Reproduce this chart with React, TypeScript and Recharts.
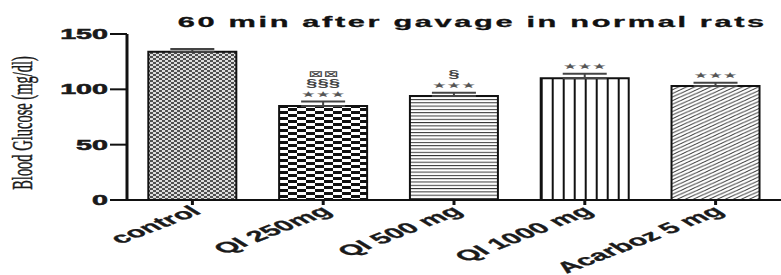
import React from 'react'
import { BarChart, Bar, XAxis, YAxis, ErrorBar, LabelList, Cell } from 'recharts'

const categories = ['control', 'QI 250mg', 'QI 500 mg', 'QI 1000 mg', 'Acarboz 5 mg']
const glucose = [134, 85, 94, 110, 103]
const sem = [2.5, 4, 3, 4, 3]
const starMarks = ['', '★★★', '★★★', '★★★', '★★★']
const sectMarks = ['', '§§§', '§', '', '']
const boxMarks = ['', '⊠⊠', '', '', '']
const yTicks = [0, 50, 100, 150]

const patterns = ['pCtrl', 'pChk', 'pHor', 'pVer', 'pDiag']

const data = categories.map((name, i) => ({
  name,
  value: glucose[i],
  err: [0, sem[i]],
}))

const SX = 2.05 // the picture is stretched sideways
const SANS = '"Liberation Sans", Arial, sans-serif'

const YTick = (props: any) => {
  const { x, y, payload } = props
  return (
    <g transform={`translate(${x},${y}) scale(${SX},1)`}>
      <text x={0} y={0} dy={5} textAnchor="end" fontFamily={SANS} fontWeight="bold" fontSize={14} fill="#1a1a1a" stroke="#1a1a1a" strokeWidth={0.5}>
        {payload.value}
      </text>
    </g>
  )
}

const XTick = (props: any) => {
  const { x, y, payload } = props
  return (
    <g transform={`translate(${x + 5},${y + 3}) scale(${SX},1) rotate(-38)`}>
      <text x={0} y={0} dy={4} textAnchor="end" fontFamily={SANS} fontWeight="bold" fontSize={15} fill="#1a1a1a" stroke="#1a1a1a" strokeWidth={0.3}>
        {payload.value}
      </text>
    </g>
  )
}

const YLabel = (props: any) => {
  const vb = props.viewBox || { x: 0, y: 34, width: 127, height: 166 }
  const cx = vb.x + 32
  const cy = vb.y + vb.height / 2 + 6
  return (
    <g transform={`translate(${cx},${cy}) scale(${SX},1) rotate(-90)`}>
      <text x={0} y={0} textAnchor="middle" fontFamily='"Liberation Serif", "Times New Roman", serif' fontSize={14.5} fill="#1a1a1a" stroke="#1a1a1a" strokeWidth={0.25}>
        Blood Glucose (mg/dl)
      </text>
    </g>
  )
}

const Annotation = (props: any) => {
  const { x, y, width, height, value } = props
  const i = categories.indexOf(value)
  if (i < 0 || !starMarks[i]) return null
  const capY = y - (sem[i] * height) / glucose[i]
  const cx = x + width / 2
  const lines = [starMarks[i], sectMarks[i], boxMarks[i]].filter(Boolean)
  return (
    <g>
      {lines.map((t, k) => (
        <g key={k} transform={`translate(${cx},${capY - 5 - k * 10}) scale(${SX},1)`}>
          <text
            x={0}
            y={0}
            textAnchor="middle"
            fontFamily={k === 1 ? SANS : '"DejaVu Sans", sans-serif'}
            fontWeight={k === 1 ? 'bold' : 'normal'}
            fontSize={k === 0 ? 8 : k === 1 ? 10 : 9}
            fill={k === 0 ? '#555' : '#444'}
          >
            {t}
          </text>
        </g>
      ))}
    </g>
  )
}

export default function App() {
  return (
    <div style={{ position: 'absolute', left: 0, top: 0, width: 781, height: 275, background: '#fff' }}>
      <BarChart
        width={781}
        height={275}
        data={data}
        margin={{ top: 34, right: 0, left: 0, bottom: 0 }}
        barCategoryGap="16.3%"
      >
        <defs>
          <pattern id="pCtrl" patternUnits="userSpaceOnUse" width={6} height={4}>
            <rect x={0} y={0} width={6} height={4} fill="#dcdcdc" />
            <rect x={0} y={0} width={3} height={2} fill="#505050" />
            <rect x={3} y={2} width={3} height={2} fill="#505050" />
          </pattern>
          <pattern id="pChk" patternUnits="userSpaceOnUse" width={18} height={6}>
            <rect x={0} y={0} width={18} height={6} fill="#fff" />
            <rect x={0} y={0} width={9} height={3} fill="#111" />
            <rect x={9} y={3} width={9} height={3} fill="#111" />
          </pattern>
          <pattern id="pHor" patternUnits="userSpaceOnUse" width={10} height={3.3}>
            <rect x={0} y={0} width={10} height={3.3} fill="#fff" />
            <rect x={0} y={0} width={10} height={1} fill="#333" />
          </pattern>
          <pattern id="pVer" patternUnits="objectBoundingBox" width={0.125} height={1}>
            <rect x={0} y={0} width={20} height={400} fill="#fff" />
            <rect x={0} y={0} width={2} height={400} fill="#111" />
          </pattern>
          <pattern id="pDiag" patternUnits="userSpaceOnUse" width={8} height={3.6}>
            <rect x={0} y={0} width={8} height={3.6} fill="#fff" />
            <path d="M0,3.6 L8,0 M-2,0.9 L2,-0.9 M6,4.5 L10,2.7" stroke="#333" strokeWidth={1} />
          </pattern>
        </defs>
        <XAxis
          dataKey="name"
          height={75}
          interval={0}
          axisLine={{ stroke: '#111', strokeWidth: 2 }}
          tickLine={{ stroke: '#111', strokeWidth: 3 }}
          tickSize={5}
          tick={<XTick />}
        />
        <YAxis
          width={127}
          domain={[0, 150]}
          ticks={yTicks}
          axisLine={{ stroke: '#111', strokeWidth: 3 }}
          tickLine={{ stroke: '#111', strokeWidth: 2 }}
          tickSize={17}
          tick={<YTick />}
          label={{ content: (p: any) => <YLabel {...p} /> }}
        />
        <Bar dataKey="value" stroke="#111" strokeWidth={2} isAnimationActive={false}>
          {data.map((d, i) => (
            <Cell key={d.name} fill={`url(#${patterns[i]})`} />
          ))}
          <ErrorBar dataKey="err" width={22} stroke="#444" strokeWidth={2} direction="y" />
          <LabelList dataKey="name" content={<Annotation />} />
        </Bar>
      </BarChart>
      <svg width={781} height={40} style={{ position: 'absolute', left: 0, top: 0, pointerEvents: 'none' }}>
        <g transform={`translate(471,27) scale(${SX},1)`}>
          <text x={0} y={0} textAnchor="middle" fontFamily={SANS} fontWeight="bold" fontSize={15} fill="#111" stroke="#111" strokeWidth={0.3} textLength={286} lengthAdjust="spacing">
            60 min after gavage in normal rats
          </text>
        </g>
      </svg>
    </div>
  )
}
